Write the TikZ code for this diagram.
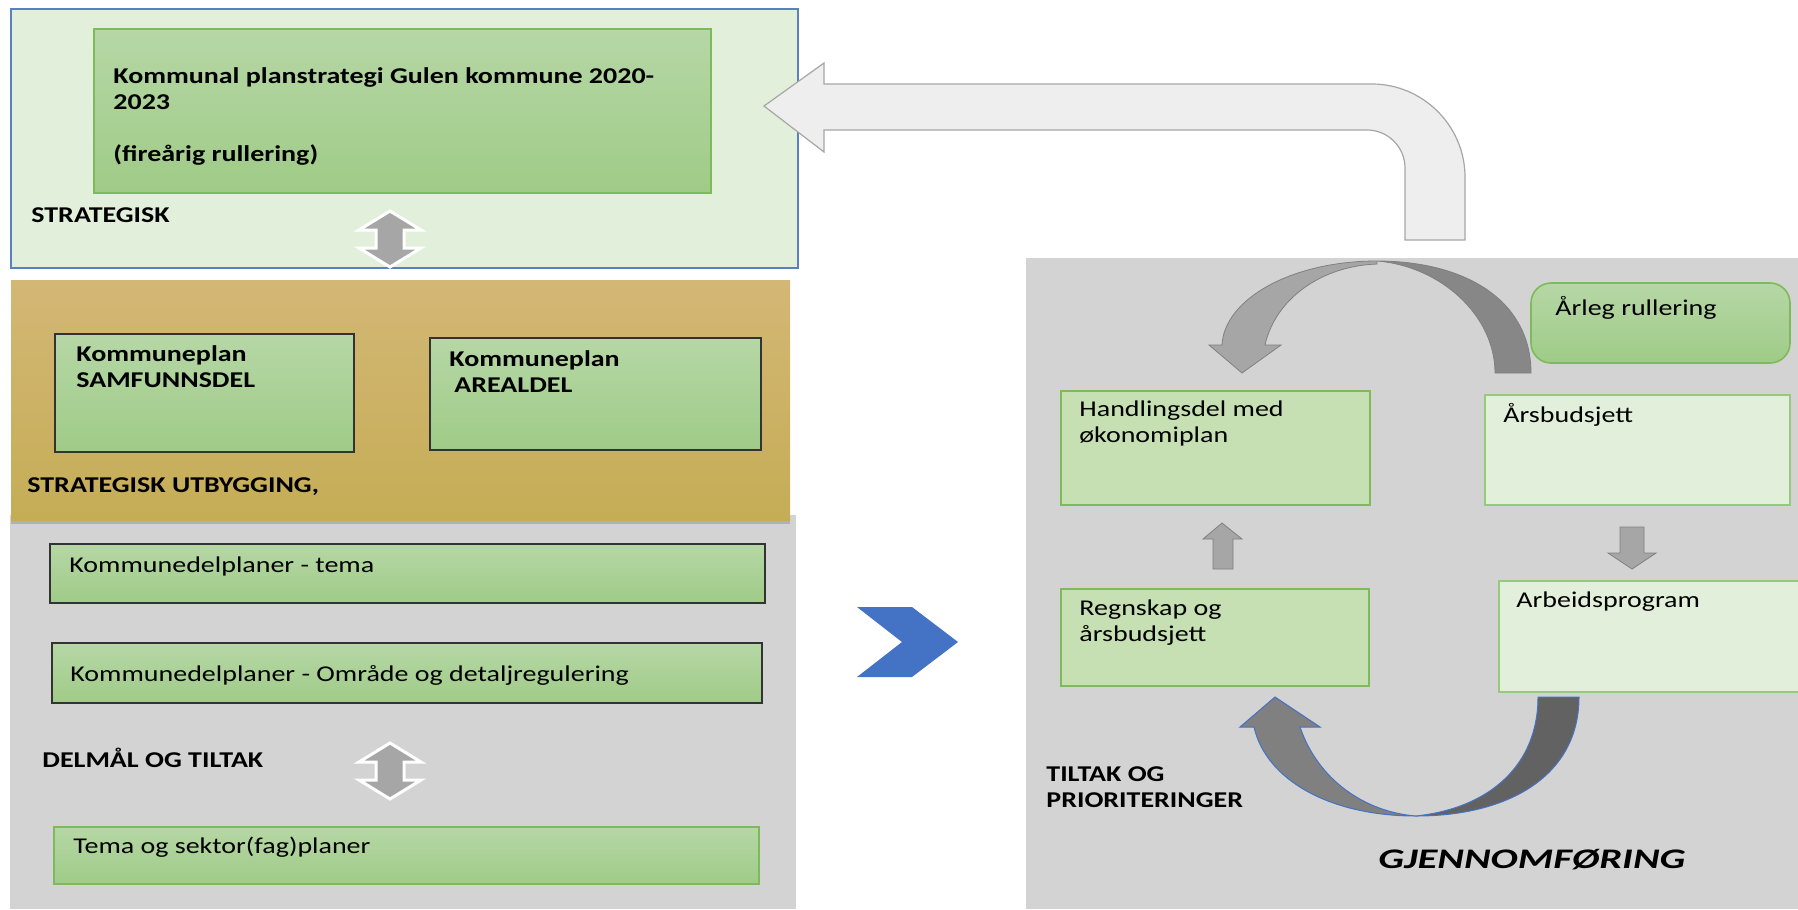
\documentclass[tikz,border=0pt]{standalone}
\usepackage{fontspec}
\setmainfont{Carlito}[FakeStretch=1.24]
\newfontfamily\gjfont{Carlito}[FakeStretch=1.43]
\usepackage{tikz}
\usetikzlibrary{shadows}

\definecolor{panelgray}{HTML}{D3D3D3}
\definecolor{palegreen}{HTML}{E2EFDA}
\definecolor{midgreen}{HTML}{C6E0B4}
\definecolor{boxtop}{HTML}{B6D7A6}
\definecolor{boxbottom}{HTML}{9FCB87}
\definecolor{boxline}{HTML}{7DBB5A}
\definecolor{frameblue}{HTML}{5B7FBF}
\definecolor{ochretop}{HTML}{D3B775}
\definecolor{ochremid}{HTML}{D5B556}
\definecolor{ochrebottom}{HTML}{C5AD56}
\definecolor{chevblue}{HTML}{4472C4}
\definecolor{arrowlight}{HTML}{A6A6A6}
\definecolor{arrowdark}{HTML}{878787}
\definecolor{loopdark}{HTML}{626262}
\definecolor{looplight}{HTML}{808080}
\definecolor{bentfill}{HTML}{EEEEEE}

\begin{document}
\begin{tikzpicture}[x=0.0176cm, y=-0.0176cm,
        txt/.style={anchor=base west, inner sep=0pt, align=left, font=\fontsize{11.3}{13}\selectfont},
        btxt/.style={txt, font=\fontsize{11.3}{13}\selectfont\bfseries},
        planbox/.style={draw=black!80, line width=0.8pt, top color=boxtop, bottom color=boxbottom},
        greenbox/.style={draw=boxline, line width=0.8pt, top color=boxtop, bottom color=boxbottom}]
                \useasboundingbox (0,0) rectangle (1798,909);

                % Background panels
                \fill[panelgray] (10,515) rectangle (796,909);
                \fill[panelgray] (1026,258) rectangle (1798,909);

                % Strategisk
                \filldraw[fill=palegreen, draw=frameblue, line width=0.6pt] (11,9) rectangle (798,268);
                \draw[greenbox] (94,29) rectangle (711,193);
                % (multi-line texts sit on their last baseline)
                \node[btxt] (plantxt) at (113,161) {Kommunal planstrategi Gulen kommune 2020-\\2023\\[13pt](fireårig rullering)};
                \node[btxt] (strat) at (31,222) {STRATEGISK};

                % Strategisk utbygging
                \shade[top color=ochretop, middle color=ochremid, bottom color=ochrebottom, drop shadow={shadow xshift=0pt, shadow yshift=-2pt, opacity=0.4}] (11,280) rectangle (790,520);
                \draw[planbox] (55,334) rectangle (354,452);
                \draw[planbox] (430,338) rectangle (761,450);
                \node[btxt] (samf) at (76,387) {Kommuneplan\\SAMFUNNSDEL};
                \node[btxt] (areal) at (449,392) {Kommuneplan\\\hspace{2.5pt}AREALDEL};
                \node[btxt] (utb) at (27,492) {STRATEGISK UTBYGGING,};

                % Delmaal og tiltak
                \draw[planbox] (50,544) rectangle (765,603);
                \draw[planbox] (52,643) rectangle (762,703);
                \draw[greenbox] (54,827) rectangle (759,884);
                \node[txt] (tema) at (69,572) {Kommunedelplaner - tema};
                \node[txt] (omr) at (70,681) {Kommunedelplaner - Område og detaljregulering};
                \node[btxt] (delmaal) at (42,767) {DELMÅL OG TILTAK};
                \node[txt] (sektor) at (73,853) {Tema og sektor(fag)planer};

                % up/down arrows
                \foreach \y in {211,743}
                    \filldraw[fill=arrowlight, draw=white, line width=1.5pt, line join=miter]
                        (390,\y) -- ++(31,19) -- ++(-17,0) -- ++(0,18) -- ++(17,0) -- ++(-31,19)
                        -- ++(-31,-19) -- ++(17,0) -- ++(0,-18) -- ++(-17,0) -- cycle;

                % bent arrow back to the plan strategy
                \filldraw[fill=bentfill, draw=arrowlight, line width=0.6pt]
                    (764,106) -- (824,63) -- (824,84) -- (1372,84)
                    .. controls (1423,84) and (1465,126) .. (1465,177) -- (1465,240)
                    -- (1405,240) -- (1405,168)
                    .. controls (1405,147) and (1388,130) .. (1367,130) -- (824,130) -- (824,152) -- cycle;

                % chevron
                \fill[chevblue] (857,607) -- (912,607) -- (958,642) -- (912,677) -- (857,677) -- (902,642) -- cycle;

                % Gjennomfoering
                \filldraw[fill=midgreen, draw=boxline, line width=0.8pt] (1061,391) rectangle (1370,505);
                \filldraw[fill=palegreen, draw=boxline!80, line width=0.8pt] (1485,395) rectangle (1790,505);
                \filldraw[fill=midgreen, draw=boxline, line width=0.8pt] (1061,589) rectangle (1369,686);
                \filldraw[fill=palegreen, draw=boxline!80, line width=0.8pt] (1499,581) rectangle (1805,692);
                \draw[greenbox, rounded corners=10pt] (1531,283) rectangle (1790,363);
                \node[txt] (handl) at (1079,442) {Handlingsdel med\\økonomiplan};
                \node[txt] (aarsb) at (1503,422) {Årsbudsjett};
                \node[txt] (aarleg) at (1555,315) {Årleg rullering};
                \node[txt] (regn) at (1079,641) {Regnskap og\\årsbudsjett};
                \node[txt] (arb) at (1516,607) {Arbeidsprogram};
                \node[btxt] (prior) at (1046,807) {TILTAK OG\\PRIORITERINGER};
                \node[anchor=base west, inner sep=0pt, font=\gjfont\fontsize{14.2}{16}\selectfont\bfseries\itshape] (gjf) at (1378,868) {GJENNOMFØRING};

                % small arrows
                \filldraw[fill=arrowlight, draw=gray, line width=0.4pt] (1222,523) -- (1242,539) -- (1233,539) -- (1233,569) -- (1213,569) -- (1213,539) -- (1203,539) -- cycle;
                \filldraw[fill=arrowlight, draw=gray, line width=0.4pt] (1632,569) -- (1656,553) -- (1644,553) -- (1644,527) -- (1620,527) -- (1620,553) -- (1608,553) -- cycle;

                % curved arrow on top
                \filldraw[fill=arrowdark, draw=gray, line width=0.4pt] (1531,373) .. controls (1531,300) and (1465,261) .. (1377,261)
                    .. controls (1440,266) and (1495,315) .. (1495,373) -- cycle;
                \filldraw[fill=arrowlight, draw=gray, line width=0.4pt] (1377,261) .. controls (1290,261) and (1224,300) .. (1222,345)
                    -- (1209,345) -- (1242,373) -- (1281,345) -- (1265,345)
                    .. controls (1275,300) and (1320,266) .. (1377,264) -- cycle;

                % curved arrow at the bottom
                \filldraw[fill=loopdark, draw=chevblue, line width=0.5pt] (1538,697) -- (1579,697) .. controls (1579,775) and (1510,816) .. (1416,816)
                    .. controls (1490,808) and (1538,765) .. (1538,697) -- cycle;
                \filldraw[fill=looplight, draw=chevblue, line width=0.5pt] (1416,816) .. controls (1330,816) and (1266,780) .. (1254,727)
                    -- (1240,727) -- (1275,697) -- (1320,727) -- (1300,727)
                    .. controls (1318,780) and (1365,812) .. (1416,816) -- cycle;
\end{tikzpicture}
\end{document}
